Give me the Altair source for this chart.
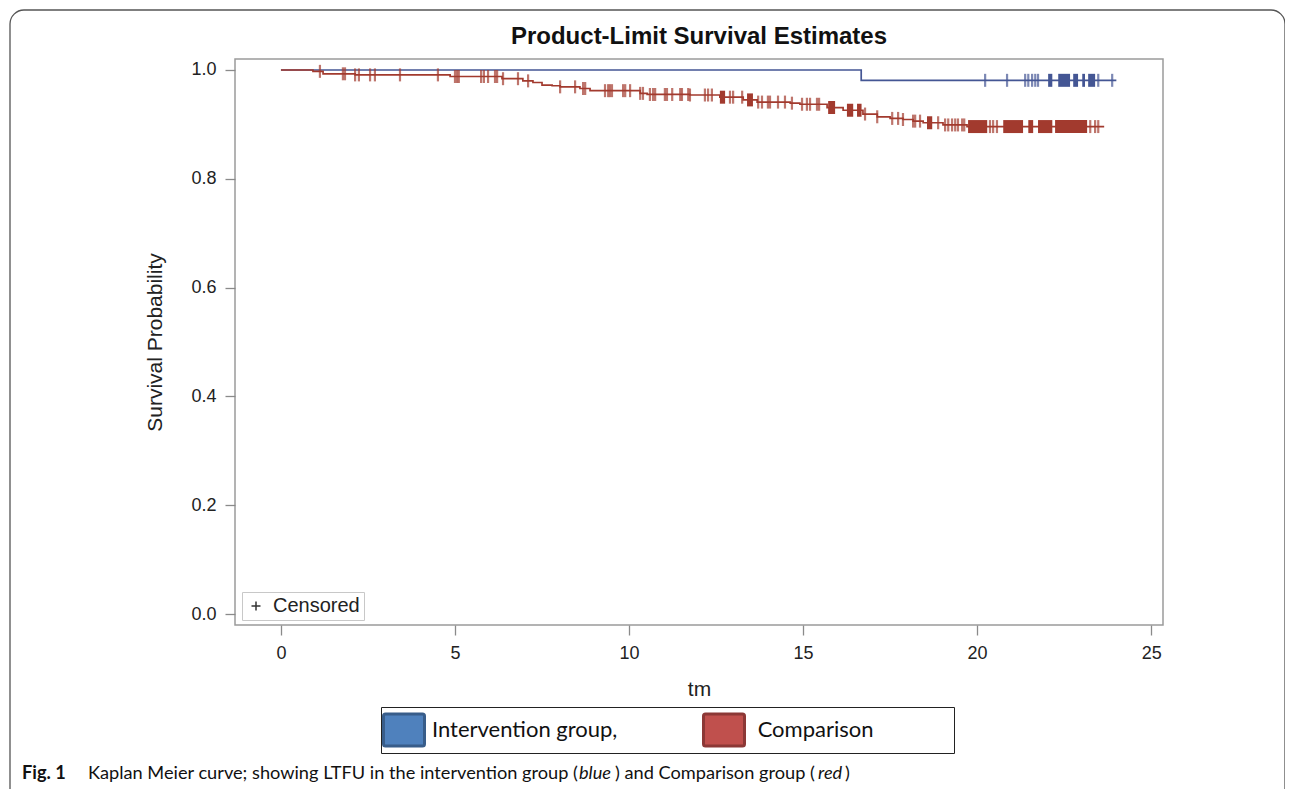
import bisect
import altair as alt
import pandas as pd

BLUE = "#445694"
RED = "#A23A2E"

NB = "\u00a0"
ZW = "\u200b"
groups = ["Intervention group,", ZW + NB + "Comparison" + NB * 14 + ZW]
swatch_fill = ["#4F81BD", "#C0504D"]
swatch_edge = ["#385D8A", "#8C3836"]

# Kaplan-Meier step values (time, survival after the step)
blue_step_t = [0.0, 16.67]
blue_step_s = [1.0, 0.981]
blue_end_t = 24.0

red_step_t = [0.0, 0.92, 1.21, 2.13, 4.86, 6.35, 6.95, 7.24, 7.50, 7.79, 8.02,
              8.59, 8.88, 10.32, 10.52, 11.75, 12.61, 13.28, 13.68, 14.63, 14.91,
              15.69, 16.15, 16.72, 17.13, 17.50, 17.87, 18.16, 18.45, 19.02, 19.71]
red_step_s = [1.0, 0.9975, 0.993, 0.991, 0.988, 0.984, 0.980, 0.977, 0.972, 0.971,
              0.969, 0.966, 0.962, 0.957, 0.955, 0.954, 0.950, 0.945, 0.941, 0.939,
              0.937, 0.931, 0.926, 0.919, 0.914, 0.911, 0.909, 0.906, 0.903, 0.899,
              0.896]
red_end_t = 23.65

# Censored observations (single marks)
blue_cens = [20.23, 20.86, 21.38, 21.47, 21.58, 21.67, 21.75, 23.48, 23.88]
red_cens = [1.12, 1.78, 1.84, 2.13, 2.24, 2.56, 2.70, 3.42, 4.51, 5.00, 5.06, 5.11,
            5.75, 5.83, 5.95, 6.15, 6.21, 6.38, 6.81, 7.10, 8.02, 8.45, 8.68, 8.74,
            9.31, 9.40, 9.45, 9.51, 9.83, 9.89, 10.03, 10.32, 10.40, 10.60, 10.69,
            10.75, 11.03, 11.09, 11.24, 11.47, 11.52, 11.70, 11.75, 12.18, 12.27,
            12.38, 12.90, 12.99, 13.25, 13.71, 13.82, 13.99, 14.05, 14.28, 14.48,
            14.68, 14.97, 15.11, 15.20, 15.40, 15.46, 16.78, 17.13, 17.56, 17.73,
            17.87, 18.16, 18.22, 18.36, 18.88, 19.08, 19.17, 19.28, 19.37, 19.45,
            19.57, 19.63, 20.37, 20.46, 20.57, 23.25, 23.39, 23.48]

# Dense runs of censored observations (start, end)
blue_runs = [(22.04, 22.16), (22.33, 22.67), (22.76, 22.90), (23.02, 23.10), (23.19, 23.39)]
red_runs = [(12.61, 12.76), (13.39, 13.56), (15.72, 15.92), (16.26, 16.44), (16.55, 16.68),
            (18.56, 18.71), (19.74, 20.29), (20.75, 21.32), (21.47, 21.61), (21.75, 22.16),
            (22.24, 23.16)]

x_ticks = [0, 5, 10, 15, 20, 25]
y_ticks = [0.0, 0.2, 0.4, 0.6, 0.8, 1.0]


def surv(ts, ss, t):
    i = bisect.bisect_right(ts, t) - 1
    return ss[max(i, 0)]


line_rows, cens_rows, run_rows = [], [], []
for g, col, st, ss, end, cens, runs in [
    ("Intervention", BLUE, blue_step_t, blue_step_s, blue_end_t, blue_cens, blue_runs),
    ("Comparison", RED, red_step_t, red_step_s, red_end_t, red_cens, red_runs),
]:
    for i, (t, s) in enumerate(zip(st, ss)):
        line_rows.append({"g": g, "col": col, "t": t, "s": s, "o": i})
    line_rows.append({"g": g, "col": col, "t": end, "s": ss[-1], "o": len(st)})
    for t in cens:
        cens_rows.append({"g": g, "col": col, "t": t, "s": surv(st, ss, t)})
    for a, b in runs:
        run_rows.append({"g": g, "col": col, "t": a, "t2": b, "s": surv(st, ss, a)})

lines_df = pd.DataFrame(line_rows)
cens_df = pd.DataFrame(cens_rows)
runs_df = pd.DataFrame(run_rows)

FONT = "Liberation Sans"
xscale = alt.Scale(domain=[-1.32, 25.34], nice=False, zero=False)
yscale = alt.Scale(domain=[-0.0202, 1.0202], nice=False, zero=False)


def xenc(f="t"):
    return alt.X(f"{f}:Q", scale=xscale,
                 axis=alt.Axis(values=x_ticks, title="tm", format="d", titlePadding=16,
                               labelPadding=9))


def yenc(f="s"):
    return alt.Y(f"{f}:Q", scale=yscale,
                 axis=alt.Axis(values=y_ticks, title="Survival Probability", format=".1f",
                               titlePadding=25, labelPadding=9))


lines_blue = alt.Chart(lines_df).transform_filter("datum.g == 'Intervention'").mark_line(
    interpolate="step-after", strokeWidth=1.7).encode(
    x=xenc(), y=yenc(), color=alt.Color("col:N", scale=None), order="o:Q")
lines_red = alt.Chart(lines_df).transform_filter("datum.g == 'Comparison'").mark_line(
    interpolate="step-after", strokeWidth=1.7).encode(
    x=xenc(), y=yenc(), color=alt.Color("col:N", scale=None), order="o:Q")

ticks = alt.Chart(cens_df).mark_tick(orient="vertical", size=13, thickness=2.2).encode(
    x=xenc(), y=yenc(), color=alt.Color("col:N", scale=None))

runs = alt.Chart(runs_df).mark_rule(strokeWidth=13, strokeCap="butt").encode(
    x=xenc(), x2="t2:Q", y=yenc(), color=alt.Color("col:N", scale=None))

SWATCH = "M-0.9,-0.78H0.9Q1,-0.78 1,-0.68V0.68Q1,0.78 0.9,0.78H-0.9Q-1,0.78 -1,0.68V-0.68Q-1,-0.78 -0.9,-0.78Z"
group_legend = alt.Legend(
    orient="none", legendX=146, legendY=648, direction="horizontal", title=None,
    symbolType=SWATCH, symbolSize=1681, symbolStrokeWidth=3, labelFont="Lato",
    labelFontSize=22, labelColor="#111", labelLimit=700, labelOffset=6,
    columnPadding=79, strokeColor="#222", padding=1)

legend_layer = alt.Chart(pd.DataFrame({"group": groups})).transform_filter("false").mark_point(
    filled=True, opacity=1).encode(
    fill=alt.Fill("group:N", scale=alt.Scale(domain=groups, range=swatch_fill), legend=group_legend),
    stroke=alt.Stroke("group:N", scale=alt.Scale(domain=groups, range=swatch_edge), legend=group_legend),
)

CROSS = "M0,-1V1M-1,0H1"
cens_legend = alt.Legend(
    orient="none", legendX=7, legendY=533, title=None, symbolType=CROSS, symbolSize=81,
    symbolStrokeWidth=1.5, symbolStrokeColor="#333", labelFont=FONT, labelFontSize=20,
    labelColor="#222", labelOffset=7, strokeColor="#c8c8c8", padding=4)
cens_layer = alt.Chart(pd.DataFrame({"kind": ["Censored"]})).transform_filter("false").mark_point(
    color="#333", opacity=1).encode(
    shape=alt.Shape("kind:N", scale=alt.Scale(domain=["Censored"], range=[CROSS]), legend=cens_legend))

one = pd.DataFrame({"k": [0]})
frame = alt.Chart(one).mark_rect(fill="transparent", stroke="#555", strokeWidth=1.3,
                                 cornerRadius=14).encode(
    x=alt.value(-225), x2=alt.value(1050), y=alt.value(-49), y2=alt.value(745))

title = alt.Chart(one).mark_text(
    text="Product-Limit Survival Estimates", align="center", baseline="alphabetic",
    font=FONT, fontSize=24, fontWeight="bold", color="#111").encode(
    x=alt.value(464), y=alt.value(-15))

cap_y = 720
caption_parts = [
    ("Fig. 1", -213, "bold", "normal"),
    ("Kaplan Meier curve; showing LTFU in the intervention group (", -147, "normal", "normal"),
    ("blue", 344, "normal", "italic"),
    (") and Comparison group (", 380, "normal", "normal"),
    ("red", 583, "normal", "italic"),
    (")", 610, "normal", "normal"),
]
caption_layers = [
    alt.Chart(one).mark_text(text=txt, align="left", baseline="alphabetic", font="Lato",
                             fontSize=18.2, fontWeight=fw, fontStyle=fs, color="#111").encode(
        x=alt.value(xp), y=alt.value(cap_y))
    for txt, xp, fw, fs in caption_parts
]

chart = alt.layer(frame, title, lines_blue, lines_red, runs, ticks, legend_layer, cens_layer,
                  *caption_layers).properties(
    width=928, height=566,
    padding={"left": 227, "top": 51, "right": 122, "bottom": 164},
    autosize=alt.AutoSizeParams(type="none"),
).configure_view(stroke="#9b9b9b", strokeWidth=1.5).configure_axis(
    labelFont=FONT, labelFontSize=18, labelColor="#222", tickColor="#8a8a8a", tickSize=10,
    tickWidth=1.3, domain=False, grid=False, titleFont=FONT, titleFontSize=21,
    titleFontWeight="normal", titleColor="#222")

chart.save("out.html", embed_options={"renderer": "svg", "actions": False})
